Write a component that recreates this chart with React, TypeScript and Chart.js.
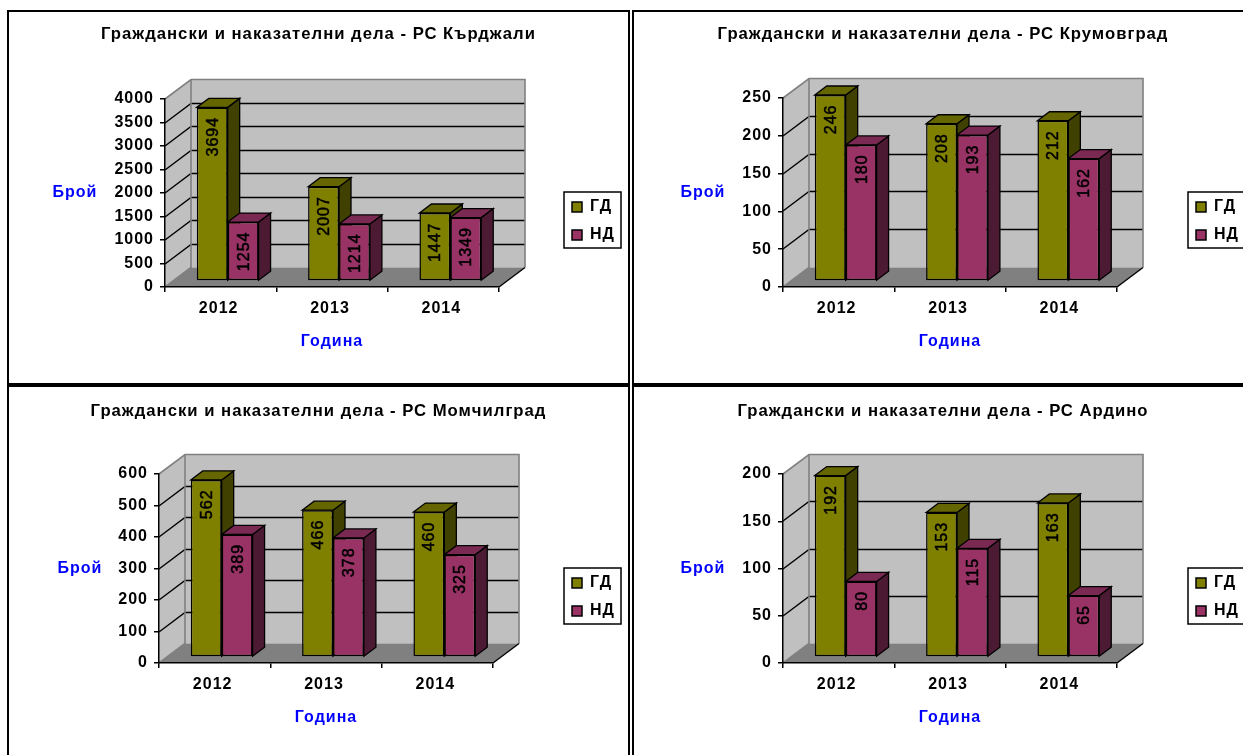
import React, { useEffect, useRef } from 'react';
import { Chart, registerables } from 'chart.js';

Chart.register(...registerables);

const FONT = '"Liberation Sans", Arial, sans-serif';
const categories = ['2012', '2013', '2014'];
const seriesNames = ['ГД', 'НД'];
const yAxisTitle = 'Брой';
const xAxisTitle = 'Година';

const kardzhaliGD = [3694, 2007, 1447];
const kardzhaliND = [1254, 1214, 1349];
const krumovgradGD = [246, 208, 212];
const krumovgradND = [180, 193, 162];
const momchilgradGD = [562, 466, 460];
const momchilgradND = [389, 378, 325];
const ardinoGD = [192, 153, 163];
const ardinoND = [80, 115, 65];

const panels = [
  {
    title: 'Граждански и наказателни дела - РС Кърджали', gd: kardzhaliGD, nd: kardzhaliND, max: 4000, step: 500, titleY: 33,
    frame: { x: 7, y: 10, w: 623, h: 375 }, plot: { l: 165, t: 99, r: 499, b: 287 }, legend: { x: 564, y: 192 }, yTitle: { x: 75, y: 193 },
  },
  {
    title: 'Граждански и наказателни дела - РС Крумовград', gd: krumovgradGD, nd: krumovgradND, max: 250, step: 50, titleY: 33,
    frame: { x: 632, y: 10, w: 622, h: 375 }, plot: { l: 783, t: 98, r: 1117, b: 287 }, legend: { x: 1188, y: 192 }, yTitle: { x: 703, y: 193 },
  },
  {
    title: 'Граждански и наказателни дела - РС Момчилград', gd: momchilgradGD, nd: momchilgradND, max: 600, step: 100, titleY: 410,
    frame: { x: 7, y: 385, w: 623, h: 400 }, plot: { l: 159, t: 474, r: 493, b: 663 }, legend: { x: 564, y: 568 }, yTitle: { x: 80, y: 569 },
  },
  {
    title: 'Граждански и наказателни дела - РС Ардино', gd: ardinoGD, nd: ardinoND, max: 200, step: 50, titleY: 410,
    frame: { x: 632, y: 385, w: 622, h: 400 }, plot: { l: 783, t: 474, r: 1117, b: 663 }, legend: { x: 1188, y: 568 }, yTitle: { x: 703, y: 569 },
  },
];

const DEPTH_X = 26;
const DEPTH_Y = 19.5;
const BAR_SHIFT_X = 7;
const BAR_SHIFT_Y = 6;
const BAR_DEPTH_X = 12;
const BAR_DEPTH_Y = 9;
const SPACING = '1px';
const faces = [
  { front: '#808000', top: '#666600', side: '#404000' },
  { front: '#993366', top: '#7A2952', side: '#4D1A33' },
];

function poly(ctx: any, pts: number[][], fill: string, stroke?: string, lw = 1.3) {
  ctx.beginPath();
  pts.forEach((p, i) => (i ? ctx.lineTo(p[0], p[1]) : ctx.moveTo(p[0], p[1])));
  ctx.closePath();
  ctx.fillStyle = fill;
  ctx.fill();
  if (stroke) {
    ctx.strokeStyle = stroke;
    ctx.lineWidth = lw;
    ctx.stroke();
  }
}

const bar3d = {
  id: 'bar3d',
  beforeUpdate(chart: any) {
    chart.ctx.letterSpacing = SPACING;
  },
  beforeDraw(chart: any, _a: any, opts: any) {
    const ctx = chart.ctx;
    ctx.letterSpacing = SPACING;
    const { left: l, right: r, top: t, bottom: b } = chart.chartArea;
    const dx = DEPTH_X, dy = DEPTH_Y;
    ctx.save();
    poly(ctx, [[l, t], [l + dx, t - dy], [l + dx, b - dy], [l, b]], '#C0C0C0');
    poly(ctx, [[l + dx, t - dy], [r + dx, t - dy], [r + dx, b - dy], [l + dx, b - dy]], '#C0C0C0');
    poly(ctx, [[l, b], [r, b], [r + dx, b - dy], [l + dx, b - dy]], '#808080');
    ctx.lineJoin = 'miter';
    const ys = chart.scales.y;
    ys.ticks.forEach((tk: any) => {
      if (tk.value === 0 || tk.value === ys.max) return;
      const y = Math.round(ys.getPixelForValue(tk.value));
      ctx.beginPath();
      ctx.moveTo(l, y);
      ctx.lineTo(l + dx, y - dy);
      ctx.lineTo(r + dx, y - dy);
      ctx.strokeStyle = '#000';
      ctx.lineWidth = 1.4;
      ctx.stroke();
    });
    ctx.strokeStyle = '#808080';
    ctx.lineWidth = 1.6;
    ctx.beginPath();
    ctx.moveTo(l, t);
    ctx.lineTo(l + dx, t - dy);
    ctx.lineTo(r + dx, t - dy);
    ctx.lineTo(r + dx, b - dy);
    ctx.moveTo(l + dx, t - dy);
    ctx.lineTo(l + dx, b - dy);
    ctx.lineTo(l, b);
    ctx.stroke();
    ctx.strokeStyle = '#000';
    ctx.lineWidth = 1.4;
    ctx.beginPath();
    ctx.moveTo(r, b);
    ctx.lineTo(r + dx, b - dy);
    ctx.stroke();
    ctx.restore();
    const lg = chart.legend;
    if (lg) {
      lg.left = opts.legendX - 4;
      lg.right = opts.legendX + 70;
      lg.top = opts.legendY - 5;
      lg.bottom = opts.legendY + 80;
      lg.width = lg.right - lg.left;
      lg.height = lg.bottom - lg.top;
    }
    const tb = chart.titleBlock;
    if (tb) {
      tb.left = 0;
      tb.right = chart.width;
      tb.width = chart.width;
    }
  },
  beforeDatasetsDraw(chart: any) {
    const ctx = chart.ctx;
    ctx.save();
    ctx.translate(BAR_SHIFT_X, -BAR_SHIFT_Y);
    chart.data.datasets.forEach((_d: any, di: number) => {
      const meta = chart.getDatasetMeta(di);
      meta.data.forEach((el: any) => {
        const a = el.x - el.width / 2, c = el.x + el.width / 2;
        const d = BAR_DEPTH_X, e = BAR_DEPTH_Y;
        poly(ctx, [[c, el.y], [c + d, el.y - e], [c + d, el.base - e], [c, el.base]], faces[di].side, '#000');
        poly(ctx, [[a, el.y], [a + d, el.y - e], [c + d, el.y - e], [c, el.y]], faces[di].top, '#000');
      });
    });
  },
  afterDatasetsDraw(chart: any) {
    const ctx = chart.ctx;
    chart.data.datasets.forEach((ds: any, di: number) => {
      chart.getDatasetMeta(di).data.forEach((el: any, i: number) => {
        ctx.save();
        ctx.translate(el.x + 1, el.y + 9.5);
        ctx.rotate(-Math.PI / 2);
        ctx.font = `16px ${FONT}`;
        ctx.fillStyle = '#000';
        ctx.strokeStyle = '#000';
        ctx.lineWidth = 0.5;
        ctx.textAlign = 'right';
        ctx.textBaseline = 'middle';
        ctx.fillText(String(ds.data[i]), 0, 0);
        ctx.strokeText(String(ds.data[i]), 0, 0);
        ctx.restore();
      });
    });
    ctx.restore();
  },
  afterDraw(chart: any, _a: any, opts: any) {
    const ctx = chart.ctx;
    ctx.save();
    ctx.strokeStyle = '#000';
    ctx.lineWidth = 1.5;
    ctx.strokeRect(opts.legendX, opts.legendY, 57, 56);
    ctx.font = `bold 16px ${FONT}`;
    ctx.fillStyle = '#0000FF';
    ctx.textAlign = 'center';
    ctx.textBaseline = 'middle';
    ctx.fillText(chart.options.scales.y.title.text, opts.yTitleX, opts.yTitleY);
    ctx.restore();
  },
};

const BORDER = 2;
const Y_WIDTH = 60;
const X_HEIGHT = 64;

function build(canvas: HTMLCanvasElement, p: (typeof panels)[number]) {
  const ox = p.frame.x + BORDER;
  const oy = p.frame.y + BORDER;
  const tickFont = { family: FONT, size: 16, weight: 'bold' as const };
  const titleFont = { family: FONT, size: 16.7, weight: 'bold' as const };
  const titleLine = 16.7 * 1.2;
  const titleTop = p.titleY - oy - titleLine / 2 + 1.5;
  return new Chart(canvas, {
    type: 'bar',
    plugins: [bar3d],
    data: {
      labels: categories,
      datasets: [
        { label: seriesNames[0], data: p.gd, backgroundColor: faces[0].front },
        { label: seriesNames[1], data: p.nd, backgroundColor: faces[1].front },
      ].map((d) => ({
        ...d,
        borderColor: '#000',
        borderWidth: 1.5,
        borderSkipped: false,
        inflateAmount: 0,
        categoryPercentage: 0.555,
        barPercentage: 1,
        clip: false,
      })),
    },
    options: {
      responsive: false,
      animation: false,
      layout: {
        padding: {
          left: p.plot.l - ox - Y_WIDTH,
          right: canvas.width - (p.plot.r - ox),
          top: 0,
          bottom: canvas.height - (p.plot.b - oy) - X_HEIGHT,
        },
      },
      scales: {
        x: {
          afterFit: (s: any) => { s.height = X_HEIGHT; },
          grid: { drawOnChartArea: false, color: '#000', lineWidth: 1.5, tickLength: 5, offset: true },
          border: { color: '#000', width: 1.5 },
          ticks: { color: '#000', font: tickFont, padding: 7, maxRotation: 0, labelOffset: -2 },
          title: { display: true, text: xAxisTitle, color: '#0000FF', font: tickFont, padding: 0 },
        },
        y: {
          min: 0,
          max: p.max,
          afterFit: (s: any) => { s.width = Y_WIDTH; },
          grid: { drawOnChartArea: false, color: '#000', lineWidth: 1.5, tickLength: 5 },
          border: { color: '#000', width: 1.5 },
          ticks: { color: '#000', font: tickFont, padding: 6, stepSize: p.step, callback: (v: any) => String(v) },
          title: { display: false, text: yAxisTitle },
        },
      },
      plugins: {
        tooltip: { enabled: false },
        title: {
          display: true,
          text: p.title,
          color: '#000',
          font: titleFont,
          padding: { top: titleTop, bottom: p.plot.t - oy - titleTop - titleLine },
        },
        legend: {
          position: 'chartArea',
          align: 'start',
          labels: { color: '#000', font: tickFont, boxWidth: 10, boxHeight: 10, padding: 12 },
        },
        bar3d: {
          legendX: p.legend.x - ox,
          legendY: p.legend.y - oy,
          yTitleX: p.yTitle.x - ox,
          yTitleY: p.yTitle.y - oy,
        },
      } as any,
    } as any,
  });
}

function Panel({ p }: { p: (typeof panels)[number] }) {
  const ref = useRef<HTMLCanvasElement>(null);
  useEffect(() => {
    const chart = build(ref.current!, p);
    return () => chart.destroy();
  }, [p]);
  return (
    <div
      style={{
        position: 'absolute',
        left: p.frame.x,
        top: p.frame.y,
        width: p.frame.w,
        height: p.frame.h,
        boxSizing: 'border-box',
        border: `${BORDER}px solid #000`,
      }}
    >
      <canvas ref={ref} width={p.frame.w - 2 * BORDER} height={p.frame.h - 2 * BORDER} style={{ display: 'block' }} />
    </div>
  );
}

export default function App() {
  return (
    <div style={{ position: 'fixed', left: 0, top: 0, width: 1243, height: 755, overflow: 'hidden', background: '#fff' }}>
      {panels.map((p) => (
        <Panel key={p.title} p={p} />
      ))}
    </div>
  );
}
